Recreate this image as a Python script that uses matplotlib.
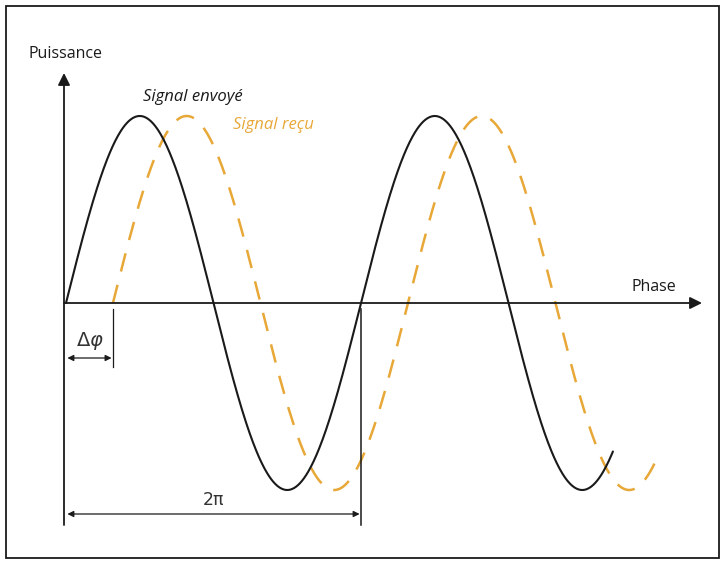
import numpy as np
import matplotlib
matplotlib.use("Agg")
import matplotlib.pyplot as plt
from matplotlib.patches import Rectangle

# --- data ---
amplitude = 1.0
n_periods = 1.854          # length of the drawn signals, in periods
phase_shift = 1.0          # delay of the received signal (rad)
labels = {"y": "Puissance", "x": "Phase", "sent": "Signal envoyé",
          "recv": "Signal reçu", "period": "2π"}

BLACK = "#1a1a1a"
ORANGE = "#E8A838"

fig = plt.figure(figsize=(7.25, 5.64), dpi=100)
ax = fig.add_axes([0, 0, 1, 1])
ax.set_axis_off()

# pixel -> data mapping for the canvas (period = 295 px, amplitude = 187 px)
k = 2 * np.pi / 295.0
x0_px, y0_px, amp_px = 66.0, 303.0, 187.0
ax.set_xlim(-x0_px * k, (725 - x0_px) * k)
ax.set_ylim(-(564 - y0_px) / amp_px, y0_px / amp_px)

def PX(p):
    return (p - x0_px) * k

def PY(p):
    return (y0_px - p) / amp_px

# signals
t = np.linspace(0, n_periods * 2 * np.pi, 800)
ax.plot(t, amplitude * np.sin(t), color=BLACK, lw=1.5, solid_capstyle="round", zorder=3)
ax.plot(t + phase_shift, amplitude * np.sin(t), color=ORANGE, lw=1.8,
        dashes=(7.5, 5.5), zorder=2)

# axes arrows
ax.annotate("", xy=(PX(702), 0), xytext=(PX(64), 0),
            arrowprops=dict(arrowstyle="-|>", color=BLACK, lw=1.3,
                            mutation_scale=18, shrinkA=0, shrinkB=0))
ax.annotate("", xy=(PX(64), PY(73)), xytext=(PX(64), PY(525)),
            arrowprops=dict(arrowstyle="-|>", color=BLACK, lw=1.3,
                            mutation_scale=18, shrinkA=0, shrinkB=0))

# 2pi marker
ax.plot([2 * np.pi, 2 * np.pi], [PY(309), PY(525)], color=BLACK, lw=1.1)
ax.annotate("", xy=(2 * np.pi, PY(514)), xytext=(0, PY(514)),
            arrowprops=dict(arrowstyle="<|-|>", color=BLACK, lw=0.9,
                            mutation_scale=9, shrinkA=1, shrinkB=1))
ax.text(np.pi, PY(500), labels["period"], ha="center", va="center",
        fontsize=12.5, color="#333333", family="DejaVu Sans")

# delta phi marker
ax.plot([phase_shift, phase_shift], [PY(309), PY(367)], color=BLACK, lw=0.9)
ax.annotate("", xy=(phase_shift, PY(358)), xytext=(0, PY(358)),
            arrowprops=dict(arrowstyle="<|-|>", color=BLACK, lw=0.9,
                            mutation_scale=9, shrinkA=1, shrinkB=1))
ax.text(PX(90), PY(341), r"$\Delta\varphi$", ha="center", va="center",
        fontsize=14, color="#333333")

# labels
ax.text(PX(65.5), PY(54), labels["y"], ha="center", va="center",
        fontsize=11.5, family="Open Sans", color=BLACK)
ax.text(PX(653.5), PY(287), labels["x"], ha="center", va="center",
        fontsize=11.5, family="Open Sans", color=BLACK)
ax.text(PX(193), PY(97), labels["sent"], ha="center", va="center",
        fontsize=12, family="Open Sans", style="italic", color=BLACK)
ax.text(PX(273), PY(125), labels["recv"], ha="center", va="center",
        fontsize=12, family="Open Sans", style="italic", color=ORANGE)

# frame around the picture
fig.patches.append(Rectangle((6 / 725, 6 / 564), 713 / 725, 552 / 564,
                             transform=fig.transFigure, fill=False,
                             ec=BLACK, lw=1.3))

fig.savefig("out.png", dpi=100)
